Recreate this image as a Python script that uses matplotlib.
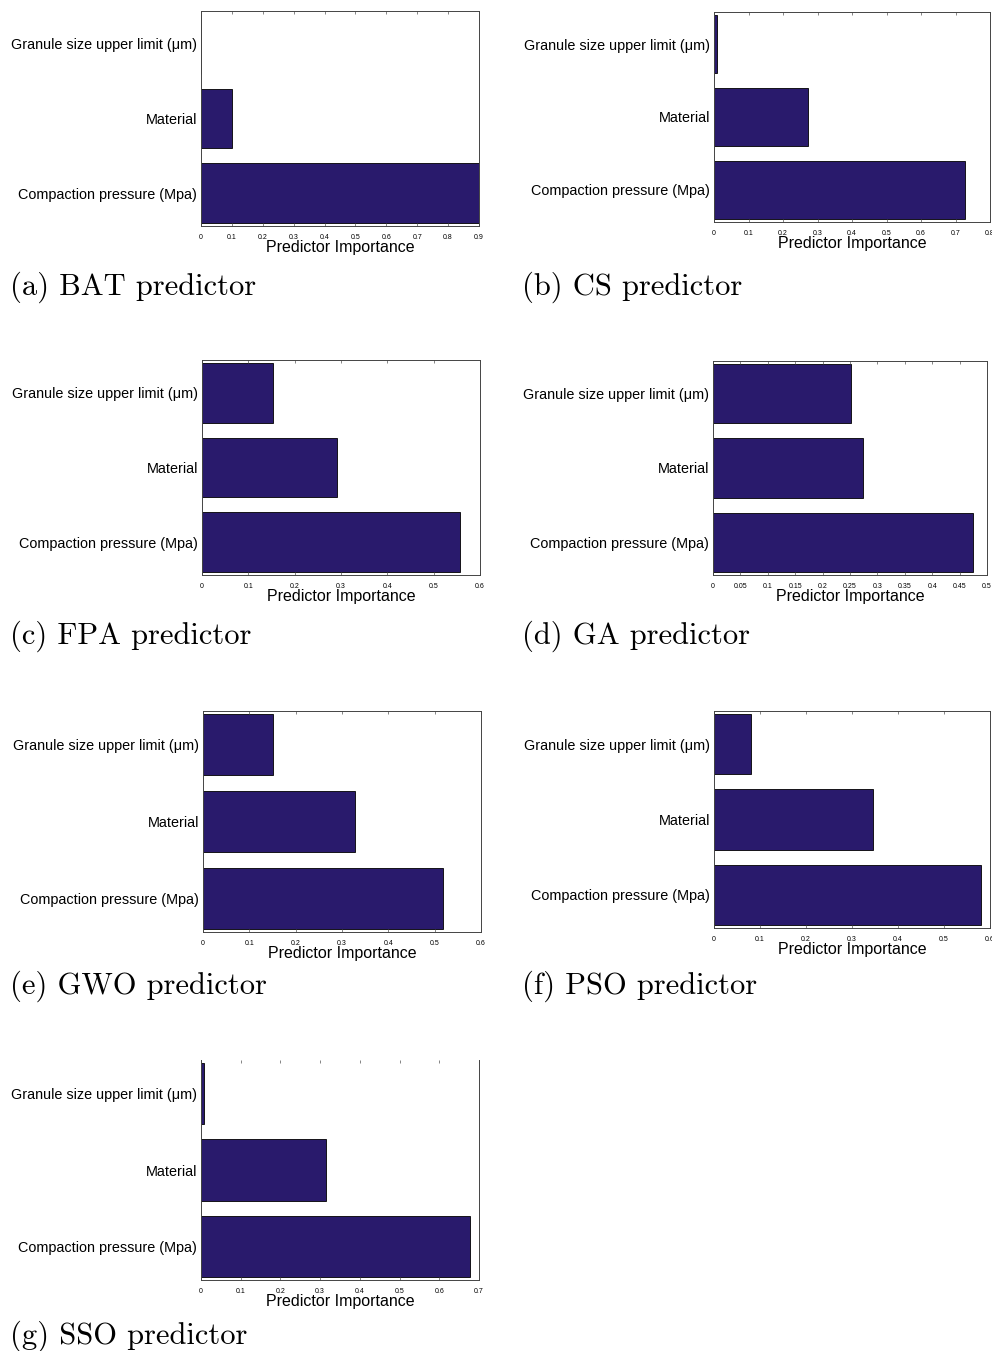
import matplotlib
matplotlib.use("Agg")
import matplotlib.pyplot as plt

W, H = 992, 1351

predictors = ["Compaction pressure (Mpa)", "Material", "Granule size upper limit (\u03bcm)"]

captions = ["(a) BAT predictor", "(b) CS predictor", "(c) FPA predictor",
            "(d) GA predictor", "(e) GWO predictor", "(f) PSO predictor",
            "(g) SSO predictor"]

# importance values: compaction, material, granule
bat = [0.90, 0.10, 0.0]
cs = [0.728, 0.272, 0.009]
fpa = [0.557, 0.291, 0.153]
ga = [0.474, 0.274, 0.252]
gwo = [0.518, 0.328, 0.151]
pso = [0.580, 0.346, 0.080]
sso = [0.677, 0.315, 0.008]
values = [bat, cs, fpa, ga, gwo, pso, sso]

xmax = [0.9, 0.8, 0.6, 0.5, 0.6, 0.6, 0.7]
xstep = [0.1, 0.1, 0.1, 0.05, 0.1, 0.1, 0.1]

# axes boxes in pixels: left, right, top, bottom
boxes = [(201, 479, 11, 226), (714, 990, 12, 222),
         (202, 480, 360, 575), (713, 987, 361, 575),
         (203, 481, 711, 932), (714, 990, 711, 928),
         (201, 479, 1060, 1280)]
cap_pos = [(10, 287), (522, 287), (10, 636), (522, 636),
           (10, 986), (522, 986), (10, 1336)]

BAR = "#291a6c"

fig = plt.figure(figsize=(W / 100, H / 100), dpi=100)

for i in range(7):
    l, r, t, b = boxes[i]
    ax = fig.add_axes([l / W, 1 - b / H, (r - l) / W, (b - t) / H])
    ax.barh([1, 2, 3], values[i], height=0.8, color=BAR, edgecolor="black", linewidth=0.6)
    ax.set_xlim(0, xmax[i])
    ax.set_ylim(0.56, 3.44)
    n = int(round(xmax[i] / xstep[i]))
    ticks = [round(k * xstep[i], 2) for k in range(n + 1)]
    ax.set_xticks(ticks)
    ax.set_xticklabels([("%g" % v) for v in ticks], fontsize=5, family="Liberation Sans")
    ax.set_yticks([1, 2, 3])
    ax.set_yticklabels(predictors, fontsize=10.4, family="Liberation Sans")
    ax.tick_params(axis="both", direction="in", top=True, right=True, length=2,
                   width=0.5, color="#555555")
    ax.tick_params(axis="x", pad=6)
    ax.tick_params(axis="y", length=0, pad=3)
    ax.tick_params(axis="y", which="both", right=True, left=False)
    for s in ax.spines.values():
        s.set_linewidth(0.7)
        s.set_color("#444444")
    if i == 6:
        ax.spines["top"].set_visible(False)
    ax.set_xlabel("Predictor Importance", fontsize=11.5, family="Liberation Sans", labelpad=-1)
    cx, cy = cap_pos[i]
    fig.text(cx / W, 1 - cy / H, captions[i], fontsize=22, family="cmr10",
             ha="left", va="center")

fig.savefig("out.png", dpi=100)
